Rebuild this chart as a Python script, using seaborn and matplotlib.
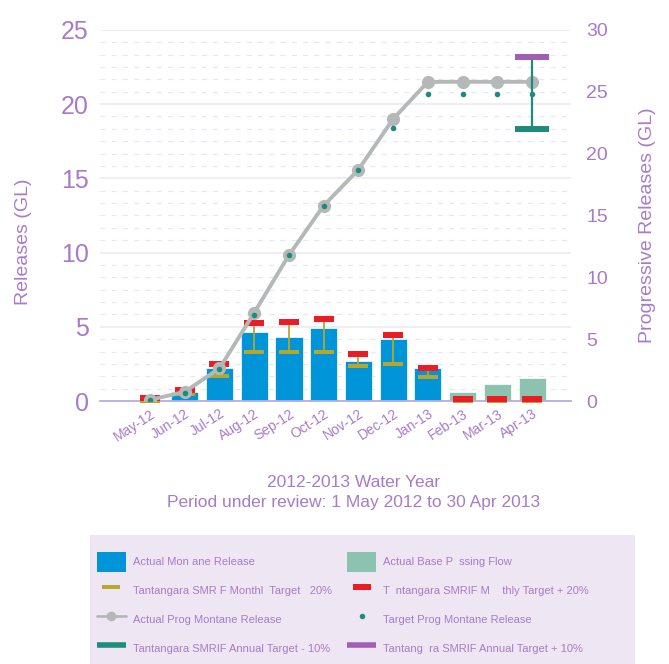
import matplotlib
matplotlib.use("Agg")
import matplotlib.pyplot as plt
import numpy as np
import pandas as pd
import seaborn as sns
from matplotlib.lines import Line2D
from matplotlib.patches import Patch, Rectangle
from matplotlib.ticker import MultipleLocator

# ---- data ----
months = ["May-12", "Jun-12", "Jul-12", "Aug-12", "Sep-12", "Oct-12",
          "Nov-12", "Dec-12", "Jan-13", "Feb-13", "Mar-13", "Apr-13"]
release_kind = ["montane"] * 9 + ["base"] * 3
monthly_release = [0.05, 0.63, 2.25, 4.67, 4.29, 4.94, 2.70, 4.16, 2.25, 0.60, 1.15, 1.53]
target_minus_20 = [0.0, 0.47, 1.70, 3.30, 3.32, 3.32, 2.34, 2.47, 1.60, 0.0, 0.0, 0.0]
target_plus_20 = [0.18, 0.74, 2.50, 5.23, 5.32, 5.50, 3.17, 4.47, 2.22, 0.15, 0.15, 0.15]
actual_prog = [0.1, 0.75, 2.64, 7.14, 11.8, 15.8, 18.7, 22.8, 25.8, 25.8, 25.8, 25.8]
target_prog = [0.05, 0.65, 2.60, 6.95, 11.8, 15.8, 18.7, 22.1, 24.8, 24.8, 24.8, 24.8]
annual_minus_10 = [22.0]
annual_plus_10 = [27.8]
annual_month = ["Apr-13"]

PURPLE_TXT = "#a77bc9"
BLUE = "#0094d9"
GREEN = "#8cc3b0"
OLIVE = "#b8a52c"
RED = "#ec1c24"
GREY = "#b4b9b7"
TEAL = "#1f8b7a"
PURPLE = "#a25db5"

sns.set_theme(style="white")
plt.rcParams["font.family"] = ["Liberation Sans", "DejaVu Sans"]

df = pd.DataFrame({"month": months, "release": monthly_release, "kind": release_kind})
pos = np.arange(len(months))

# wide flat rectangle markers for the monthly targets / annual caps
red_mark = [(-1, -0.35), (1, -0.35), (1, 0.35), (-1, 0.35)]
olive_mark = [(-1, -0.24), (1, -0.24), (1, 0.24), (-1, 0.24)]
cap_mark = [(-1, -0.16), (1, -0.16), (1, 0.16), (-1, 0.16)]

fig = plt.figure(figsize=(6.69, 6.64), dpi=100)
ax = fig.add_axes([0.1495, 0.396, 0.704, 0.559])

sns.barplot(data=df, x="month", y="release", hue="kind", dodge=False,
            palette={"montane": BLUE, "base": GREEN}, width=0.78, saturation=1,
            edgecolor="white", linewidth=0.5, legend=False, ax=ax)

ax.vlines(pos, target_minus_20, target_plus_20, color=OLIVE, lw=1.3, zorder=3)
ax.plot(pos, target_minus_20, ls="none", marker=olive_mark, ms=14, color=OLIVE,
        mew=0, zorder=4, clip_on=False)
ax.plot(pos, target_plus_20, ls="none", marker=red_mark, ms=14, color=RED,
        mew=0, zorder=5, clip_on=False)

ax.set_xlim(-1.44, len(months) - 1 + 1.12)
ax.set_ylim(0, 25)
ax.yaxis.set_major_locator(MultipleLocator(5))
ax.yaxis.set_minor_locator(MultipleLocator(25 / 30))
ax.set_axisbelow(True)
ax.grid(axis="y", which="major", color="#f0ecf6", lw=1.3)
ax.grid(axis="y", which="minor", color="#e9e5f2", lw=0.9, ls=(0, (4, 5)))
ax.grid(axis="x", visible=False)
for s in ["top", "left", "right"]:
    ax.spines[s].set_visible(False)
ax.spines["bottom"].set_color("#b7ade4")
ax.spines["bottom"].set_linewidth(1.3)
ax.tick_params(axis="both", which="both", length=0, colors=PURPLE_TXT)
ax.tick_params(axis="y", labelsize=18, pad=8)
ax.tick_params(axis="x", labelsize=10, pad=4)
plt.setp(ax.get_xticklabels(), rotation=33, ha="right", rotation_mode="anchor")
ax.set_xlabel("")
ax.set_ylabel("Releases (GL)", fontsize=14, color=PURPLE_TXT)
ax.yaxis.set_label_coords(-0.145, 0.43)

# right axis: progressive releases
ax2 = ax.twinx()
ax2.patch.set_alpha(0)
sns.lineplot(x=pos, y=actual_prog, color=GREY, lw=2.8, marker="o", ms=9.5,
             markeredgewidth=0, ax=ax2)
sns.scatterplot(x=pos, y=target_prog, color=TEAL, s=16, linewidth=0, ax=ax2, zorder=5)

ann_x = [months.index(m) for m in annual_month]
ax2.vlines(ann_x, annual_minus_10, annual_plus_10, color=TEAL, lw=1.6, zorder=6)
ax2.plot(ann_x, annual_minus_10, ls="none", marker=cap_mark, ms=25, color=TEAL,
         mew=0, zorder=7)
ax2.plot(ann_x, annual_plus_10, ls="none", marker=cap_mark, ms=25, color=PURPLE,
         mew=0, zorder=7)

ax2.set_ylim(0, 30)
ax2.yaxis.set_major_locator(MultipleLocator(5))
ax2.grid(False)
for s in ax2.spines.values():
    s.set_visible(False)
ax2.tick_params(axis="y", length=0, colors=PURPLE_TXT, labelsize=14, pad=11)
ax2.set_ylabel("Progressive Releases (GL)", fontsize=14, color=PURPLE_TXT)
ax2.yaxis.set_label_coords(1.145, 0.475)

fig.text(0.528, 0.274, "2012-2013 Water Year", ha="center", va="center",
         fontsize=12.5, color=PURPLE_TXT)
fig.text(0.528, 0.243, "Period under review: 1 May 2012 to 30 Apr 2013",
         ha="center", va="center", fontsize=12.5, color=PURPLE_TXT)

# legend panel
fig.add_artist(Rectangle((90 / 669, 0), 545 / 669, 129 / 664,
                         transform=fig.transFigure, facecolor="#eee7f3",
                         edgecolor="none", zorder=0))
handles = [
    Patch(facecolor=BLUE, edgecolor="none"),
    Line2D([], [], ls="none", marker=olive_mark, ms=13, color=OLIVE, mew=0),
    Line2D([], [], color=GREY, lw=2, marker="o", ms=7, mew=0),
    Line2D([], [], color=TEAL, lw=4, solid_capstyle="butt"),
    Patch(facecolor=GREEN, edgecolor="none"),
    Line2D([], [], ls="none", marker=red_mark, ms=13, color=RED, mew=0),
    Line2D([], [], ls="none", marker="o", ms=4, color=TEAL, mew=0),
    Line2D([], [], color=PURPLE, lw=4, solid_capstyle="butt"),
]
labels = [
    "Actual Mon ane Release",
    "Tantangara SMR F Monthl  Target   20%",
    "Actual Prog Montane Release",
    "Tantangara SMRIF Annual Target - 10%",
    "Actual Base P  ssing Flow",
    "T  ntangara SMRIF M    thly Target + 20%",
    "Target Prog Montane Release",
    "Tantang  ra SMRIF Annual Target + 10%",
]
fig.legend(handles, labels, ncol=2, loc="upper left",
           bbox_to_anchor=(97 / 669, 1 - 552 / 664), frameon=False,
           fontsize=8, labelcolor=PURPLE_TXT, handlelength=2.6,
           handleheight=2.4, handletextpad=0.6, labelspacing=0.78,
           columnspacing=1.4, borderpad=0, borderaxespad=0)

fig.savefig("out.png", dpi=100)
